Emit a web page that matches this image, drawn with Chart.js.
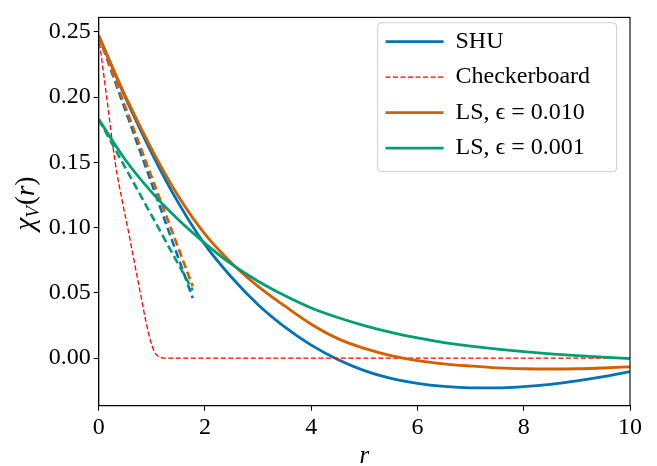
<!DOCTYPE html>
<html><head><meta charset="utf-8">
<script src="https://cdn.jsdelivr.net/npm/chart.js@4.4.0/dist/chart.umd.min.js"></script>
<style>html,body{margin:0;padding:0;background:#fff;}canvas{display:block;}</style>
</head><body>
<canvas id="c" width="657" height="466"></canvas>
<script>
// ---- data ----
const rGrid = [0,0.5,1,1.5,2,2.5,3,3.5,4,4.5,5,5.5,6,6.5,7,7.5,8,8.5,9,9.5,10];
const shu   = [0.247,0.200,0.157,0.119,0.087,0.062,0.041,0.024,0.010,-0.001,-0.0095,-0.0155,-0.0193,-0.0216,-0.0227,-0.0228,-0.0218,-0.0200,-0.0174,-0.0142,-0.0103];
const ls010 = [0.247,0.201,0.160,0.124,0.095,0.073,0.055,0.040,0.026,0.015,0.0075,0.002,-0.0018,-0.0043,-0.006,-0.0074,-0.0081,-0.0083,-0.0081,-0.0075,-0.0066];
const ls001 = [0.183,0.152,0.127,0.106,0.088,0.072,0.059,0.048,0.0385,0.0312,0.025,0.0198,0.0155,0.012,0.0092,0.007,0.005,0.0033,0.0019,0.0008,-0.0003];
const rChk  = [0,0.15,0.31,0.45,0.56,0.75,0.93,1.0,1.06,1.12,1.18,1.3,10];
const chk   = [0.247,0.200,0.150,0.119,0.097,0.057,0.0205,0.010,0.004,0.0015,0.0005,0,0];
const rSmall     = [0,0.9,1.77];
const shuSmall   = [0.247,0.1448,0.046];
const ls010Small = [0.247,0.1494,0.055];
const ls001Small = [0.183,0.1164,0.052];
const xTicks = [0,2,4,6,8,10];
const yTicks = [0,0.05,0.10,0.15,0.20,0.25];
const legendLabels = ['SHU','Checkerboard','LS, \u03F5 = 0.010','LS, \u03F5 = 0.001'];
const xTitle = 'r';

const C_BLUE='#0173b2', C_ORANGE='#d55e00', C_GREEN='#029e73', C_RED='#ff0000';
const FONT = '"Liberation Serif", "Times New Roman", serif';
const pts = (xs, ys) => xs.map((x,i)=>({x, y: ys[i]}));

const solid = (label, xs, ys, color, order) => ({label, data: pts(xs,ys), borderColor: color, backgroundColor: color,
  borderWidth: 2.8, pointRadius: 0, cubicInterpolationMode: 'monotone', fill: false, order});
const dashed = (label, xs, ys, color, order, w, dash) => ({label, data: pts(xs,ys), borderColor: color, backgroundColor: color,
  borderWidth: w, borderDash: dash, pointRadius: 0, tension: 0, fill: false, order, inLegend: false});

const datasets = [
  solid(legendLabels[0], rGrid, shu, C_BLUE, 7),
  Object.assign(dashed(legendLabels[1], rChk, chk, C_RED, 4, 1.3, [5,2.5]), {cubicInterpolationMode:'monotone', inLegend: true}),
  solid(legendLabels[2], rGrid, ls010, C_ORANGE, 3),
  solid(legendLabels[3], rGrid, ls001, C_GREEN, 1),
  dashed('SHU small r', rSmall, shuSmall, C_BLUE, 6, 2.6, [8,4]),
  dashed('LS 0.010 small r', rSmall, ls010Small, C_ORANGE, 5, 2.6, [8,4]),
  dashed('LS 0.001 small r', rSmall, ls001Small, C_GREEN, 2, 2.6, [8,4]),
];

const LEG = {x: 374, y: 18.2, boxX: 377.7, boxY: 22.7, boxW: 239, boxH: 149};

const customPlugin = {
  id: 'custom',
  afterLayout(chart) {
    const lg = chart.legend;
    if (!lg) return;
    lg.left = LEG.x; lg.top = LEG.y; lg.right = LEG.x + 270; lg.bottom = LEG.y + 170;
    lg.width = 270; lg.height = 170;
  },
  beforeDraw(chart) {
    const ctx = chart.ctx;
    ctx.save();
    ctx.fillStyle = '#fff';
    ctx.fillRect(0,0,chart.width,chart.height);
    const {boxX:x, boxY:y, boxW:w, boxH:h} = LEG; const r = 4;
    ctx.beginPath();
    ctx.moveTo(x+r,y); ctx.lineTo(x+w-r,y); ctx.arcTo(x+w,y,x+w,y+r,r);
    ctx.lineTo(x+w,y+h-r); ctx.arcTo(x+w,y+h,x+w-r,y+h,r);
    ctx.lineTo(x+r,y+h); ctx.arcTo(x,y+h,x,y+h-r,r);
    ctx.lineTo(x,y+r); ctx.arcTo(x,y,x+r,y,r); ctx.closePath();
    ctx.fillStyle='rgba(255,255,255,0.8)'; ctx.fill();
    ctx.strokeStyle='#cccccc'; ctx.lineWidth=1; ctx.stroke();
    ctx.restore();
  },
  afterDraw(chart) {
    const ctx = chart.ctx; const a = chart.chartArea;
    ctx.save();
    ctx.strokeStyle = '#000'; ctx.lineWidth = 1.1;
    ctx.strokeRect(a.left, a.top, a.right - a.left, a.bottom - a.top);
    // x title
    ctx.fillStyle = '#000';
    ctx.font = 'italic 25px ' + FONT;
    ctx.textAlign = 'center'; ctx.textBaseline = 'alphabetic';
    ctx.fillText(xTitle, (a.left + a.right)/2, 463);
    // y title: chi_V(r)
    ctx.translate(34, 204);
    ctx.rotate(-Math.PI/2);
    const parts = [
      {t:'\u03C7', f:'italic 29px '+FONT, dy:0},
      {t:'V', f:'italic 19px '+FONT, dy:5},
      {t:'(', f:'27px '+FONT, dy:0},
      {t:'r', f:'italic 27px '+FONT, dy:0},
      {t:')', f:'27px '+FONT, dy:0},
    ];
    let tot = 0;
    parts.forEach(p => { ctx.font = p.f; p.w = ctx.measureText(p.t).width; tot += p.w; });
    let cx = -tot/2;
    ctx.textAlign = 'left';
    parts.forEach(p => { ctx.font = p.f; ctx.fillText(p.t, cx, p.dy); cx += p.w + (p.t === 'V' ? 1 : 0); });
    ctx.restore();
  }
};

new Chart(document.getElementById('c'), {
  type: 'line',
  data: { datasets },
  options: {
    responsive: false, animation: false, devicePixelRatio: 1,
    layout: { padding: { left: 0, right: 27, top: 10, bottom: 0 } },
    plugins: {
      tooltip: { enabled: false },
      legend: {
        display: true, position: 'chartArea', align: 'start',
        labels: {
          usePointStyle: true, pointStyle: 'line', pointStyleWidth: 58,
          padding: 11.5, color: '#000',
          font: { family: FONT, size: 24 },
          generateLabels: (chart) => {
            const items = Chart.defaults.plugins.legend.labels.generateLabels(chart);
            items.forEach(it => {
              const ds = chart.data.datasets[it.datasetIndex];
              it.lineDash = ds.borderDash || [];
              it.lineWidth = ds.borderWidth;
              it.strokeStyle = ds.borderColor;
              it.pointStyle = 'line';
            });
            return items;
          },
          filter: (item, data) => data.datasets[item.datasetIndex].inLegend !== false,
          sort: (a, b) => a.datasetIndex - b.datasetIndex,
        }
      }
    },
    scales: {
      x: {
        type: 'linear', min: 0, max: 10,
        afterFit: (s) => { s.height = 60.3; },
        afterBuildTicks: (s) => { s.ticks = xTicks.map(v => ({value: v})); },
        ticks: { color: '#000', font: { family: FONT, size: 24 }, padding: 3, maxRotation: 0,
          callback: (v) => String(v) },
        grid: { drawOnChartArea: false, drawTicks: true, tickLength: 5, tickColor: '#000', tickWidth: 1.1 },
        border: { display: true, color: '#000', width: 1.1 },
        title: { display: false, text: xTitle }
      },
      y: {
        type: 'linear', min: -0.0364, max: 0.2611,
        afterFit: (s) => { s.width = 98.7; },
        afterBuildTicks: (s) => { s.ticks = yTicks.map(v => ({value: v})); },
        ticks: { color: '#000', font: { family: FONT, size: 24 }, padding: 3,
          callback: (v) => Number(v).toFixed(2) },
        grid: { drawOnChartArea: false, drawTicks: true, tickLength: 5, tickColor: '#000', tickWidth: 1.1 },
        border: { display: true, color: '#000', width: 1.1 },
        title: { display: false, text: '\u03C7V(r)' }
      }
    }
  },
  plugins: [customPlugin]
});
</script>
</body></html>
